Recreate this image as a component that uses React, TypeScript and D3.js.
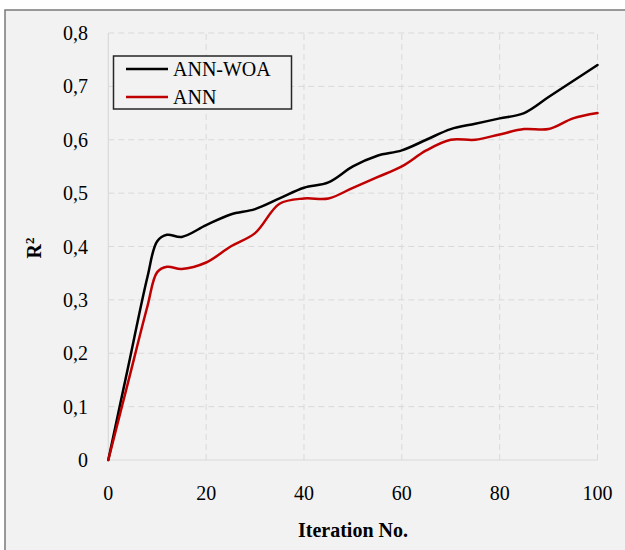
import * as d3 from "d3"

const iterations = [0, 4, 8, 10, 12, 15, 20, 25, 30, 35, 40, 45, 50, 55, 60, 65, 70, 75, 80, 85, 90, 95, 100]
const annWoa = [0, 0.172, 0.343, 0.41, 0.422, 0.418, 0.44, 0.46, 0.47, 0.49, 0.51, 0.52, 0.55, 0.57, 0.58, 0.6, 0.62, 0.63, 0.64, 0.65, 0.68, 0.71, 0.74]
const ann = [0, 0.144, 0.288, 0.352, 0.362, 0.358, 0.37, 0.4, 0.425, 0.48, 0.49, 0.49, 0.51, 0.53, 0.55, 0.58, 0.6, 0.6, 0.61, 0.62, 0.62, 0.64, 0.65]
const xTicks = [0, 20, 40, 60, 80, 100]
const yTicks = [0, 0.1, 0.2, 0.3, 0.4, 0.5, 0.6, 0.7, 0.8]

const series = [
  { name: "ANN-WOA", values: annWoa, color: "#000000" },
  { name: "ANN", values: ann, color: "#c00000" },
]

const W = 625
const H = 550
const font = "'Liberation Serif', 'DejaVu Serif', serif"

export default function App() {
  const x = d3.scaleLinear().domain([0, 100]).range([108.3, 597.5])
  const y = d3.scaleLinear().domain([0, 0.8]).range([460, 33])

  const line = d3
    .line<[number, number]>()
    .x((d) => x(d[0]))
    .y((d) => y(d[1]))
    .curve(d3.curveCatmullRom.alpha(0.5))

  const fmt = (v: number) => (v === 0 ? "0" : d3.format(".1f")(v).replace(".", ","))
  const txt = { fontFamily: font }

  return (
    <svg
      width={W}
      height={H}
      style={{ position: "absolute", left: 0, top: 0, background: "#fff", fontFamily: font }}
    >
      <rect x={5} y={10} width={700} height={600} fill="#f2f2f2" stroke="#7a7a7a" strokeWidth={1.5} />

      {/* grid */}
      {yTicks.slice(1).map((t) => (
        <line key={"gy" + t} x1={x(0)} x2={x(100)} y1={y(t)} y2={y(t)} stroke="#d9d9d9" strokeWidth={1} strokeDasharray="6,4" />
      ))}
      {xTicks.slice(1).map((t) => (
        <line key={"gx" + t} x1={x(t)} x2={x(t)} y1={y(0)} y2={y(0.8)} stroke="#d9d9d9" strokeWidth={1} strokeDasharray="6,4" />
      ))}
      <line x1={x(0)} x2={x(0)} y1={y(0)} y2={y(0.8)} stroke="#d9d9d9" strokeWidth={1.2} />
      <line x1={x(0)} x2={x(100)} y1={y(0)} y2={y(0)} stroke="#d9d9d9" strokeWidth={1.2} />

      {/* tick labels */}
      {yTicks.map((t) => (
        <text key={"ty" + t} style={txt} x={88} y={y(t)} dy="0.35em" textAnchor="end" fontSize={20} fill="#000">
          {fmt(t)}
        </text>
      ))}
      {xTicks.map((t) => (
        <text key={"tx" + t} style={txt} x={x(t)} y={500} textAnchor="middle" fontSize={20} fill="#000">
          {t}
        </text>
      ))}

      {/* series */}
      {series.map((s) => (
        <path
          key={s.name}
          d={line(iterations.map((it, i) => [it, s.values[i]] as [number, number])) || ""}
          fill="none"
          stroke={s.color}
          strokeWidth={2.5}
          strokeLinejoin="round"
          strokeLinecap="round"
        />
      ))}

      {/* axis titles */}
      <text style={txt} x={353} y={537} textAnchor="middle" fontSize={20} fontWeight="bold" fill="#000">
        Iteration No.
      </text>
      <text style={txt} transform="translate(41,248) rotate(-90)" textAnchor="middle" fontSize={20} fontWeight="bold" fill="#000">
        R<tspan fontSize={13} dy={-7}>2</tspan>
      </text>

      {/* legend */}
      <rect x={113.5} y={56} width={178} height={53} fill="#f2f2f2" stroke="#262626" strokeWidth={1.5} />
      {series.map((s, i) => (
        <g key={"lg" + s.name} transform={`translate(0,${69 + i * 28})`}>
          <line x1={126} x2={168} y1={0} y2={0} stroke={s.color} strokeWidth={2.5} />
          <text style={txt} x={173} y={0} dy="0.35em" fontSize={20} fill="#000">
            {s.name}
          </text>
        </g>
      ))}
    </svg>
  )
}
